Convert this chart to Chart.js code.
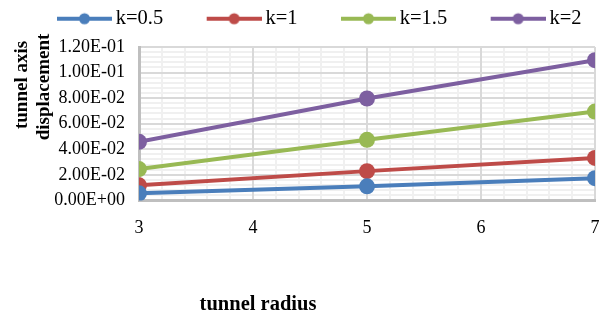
<!DOCTYPE html>
<html>
<head>
<meta charset="utf-8">
<script src="https://cdn.jsdelivr.net/npm/chart.js@4"></script>
<style>
  html, body { margin: 0; padding: 0; background: #fff; }
  #wrap { width: 603px; height: 317px; position: relative; }
</style>
</head>
<body>
<div id="wrap"><canvas id="chart"></canvas></div>
<script>
// data
const radius = [3, 5, 7];
const k05 = [0.0055, 0.0110, 0.0174];
const k1 = [0.0118, 0.0229, 0.0332];
const k15 = [0.0245, 0.0474, 0.0695];
const k2 = [0.0458, 0.0797, 0.1097];
const seriesNames = ["k=0.5", "k=1", "k=1.5", "k=2"];
const seriesColors = ["#4a7ebb", "#be4b48", "#98b954", "#7d5fa0"];
const yTitle = ["tunnel axis", "displacement"];
const xTitle = "tunnel radius";

const FONT = "'Liberation Serif', 'Times New Roman', serif";

const toPoints = (vals) => vals.map((v, i) => ({ x: radius[i], y: v }));

// legend marker: blank lead-in, then a short line with a dot in the middle
const legendIcon = (color) => {
  const c = document.createElement("canvas");
  c.width = 95; c.height = 18;
  const g = c.getContext("2d");
  g.strokeStyle = color;
  g.lineWidth = 4;
  g.beginPath();
  g.moveTo(40, 9); g.lineTo(95, 9);
  g.stroke();
  g.fillStyle = color;
  g.beginPath();
  g.arc(67.5, 9, 5.5, 0, Math.PI * 2);
  g.fill();
  return c;
};

const fmtExp = (v) => Number(v).toExponential(2).replace(/e([+-])(\d)$/, "E$10$2").toUpperCase();

// axis titles sit where the original put them (y title overlaps the tick labels)
const titlesPlugin = {
  id: "axisTitles",
  afterDraw(chart) {
    const ctx = chart.ctx;
    const pos = [[22, 85], [44, 87]];
    ctx.save();
    ctx.fillStyle = "#000";
    ctx.textAlign = "center";
    ctx.textBaseline = "middle";
    ctx.font = "bold 19px " + FONT;
    yTitle.forEach((line, i) => {
      ctx.save();
      ctx.translate(pos[i][0], pos[i][1]);
      ctx.rotate(-Math.PI / 2);
      ctx.fillText(line, 0, 0);
      ctx.restore();
    });
    ctx.font = "bold 20.5px " + FONT;
    ctx.fillText(xTitle, 258, 305);
    ctx.restore();
  }
};

// fixed legend band height so the plot starts where the original does
const legendBand = {
  id: "legendBand",
  afterInit(chart) {
    const legend = chart.legend;
    if (!legend) return;
    const fit = legend.fit;
    legend.fit = function () {
      fit.call(this);
      this.height = 48.5;
    };
  }
};

const datasets = [k05, k1, k15, k2].map((vals, i) => ({
  label: seriesNames[i],
  data: toPoints(vals),
  showLine: true,
  borderColor: seriesColors[i],
  backgroundColor: seriesColors[i],
  borderWidth: 4,
  pointRadius: 8,
  pointHoverRadius: 8,
  pointBorderWidth: 0,
  tension: 0
}));

// hidden axes that only carry the light minor grid
const minorAxis = (pos, min, max, step) => ({
  type: "linear",
  position: pos,
  min: min,
  max: max,
  z: -1,
  afterFit: (s) => { if (pos === "left") s.width = 0; else s.height = 0; },
  ticks: { display: false, stepSize: step, autoSkip: false, font: { size: 1 } },
  grid: { color: "#f0f0f0", lineWidth: 2, drawTicks: false },
  border: { display: false }
});

new Chart(document.getElementById("chart"), {
  type: "scatter",
  data: { datasets: datasets },
  options: {
    responsive: true,
    maintainAspectRatio: false,
    animation: false,
    layout: { padding: { left: 13.5, right: 0, top: -1.5, bottom: 61 } },
    plugins: {
      tooltip: { enabled: false },
      legend: {
        position: "top",
        align: "start",
        onClick: null,
        labels: {
          color: "#000",
          font: { family: FONT, size: 20.5 },
          usePointStyle: true,
          pointStyleWidth: 82,
          boxHeight: 18,
          padding: 10,
          generateLabels: (c) => c.data.datasets.map((ds, i) => ({
            text: ds.label,
            pointStyle: legendIcon(seriesColors[i]),
            fillStyle: seriesColors[i],
            strokeStyle: seriesColors[i],
            lineWidth: 0,
            hidden: false,
            datasetIndex: i
          }))
        }
      }
    },
    scales: {
      xMinor: minorAxis("bottom", 3, 7, 0.2),
      yMinor: minorAxis("left", 0, 0.12, 0.004),
      x: {
        type: "linear",
        min: 3,
        max: 7,
        afterFit: (s) => { s.paddingRight = 7; },
        ticks: {
          stepSize: 1,
          maxRotation: 0,
          color: "#000",
          font: { family: FONT, size: 18 },
          padding: 17
        },
        grid: { color: "#d9d9d9", lineWidth: 2, drawTicks: false },
        border: { color: "#bfbfbf", width: 3 }
      },
      y: {
        min: 0,
        max: 0.12,
        afterFit: (s) => { s.width = 125.5; },
        ticks: {
          stepSize: 0.02,
          autoSkip: false,
          color: "#000",
          font: { family: FONT, size: 18 },
          padding: 14,
          callback: (v) => fmtExp(v)
        },
        grid: { color: "#d9d9d9", lineWidth: 2, drawTicks: false },
        border: { color: "#bfbfbf", width: 3 }
      }
    }
  },
  plugins: [titlesPlugin, legendBand]
});
</script>
</body>
</html>
